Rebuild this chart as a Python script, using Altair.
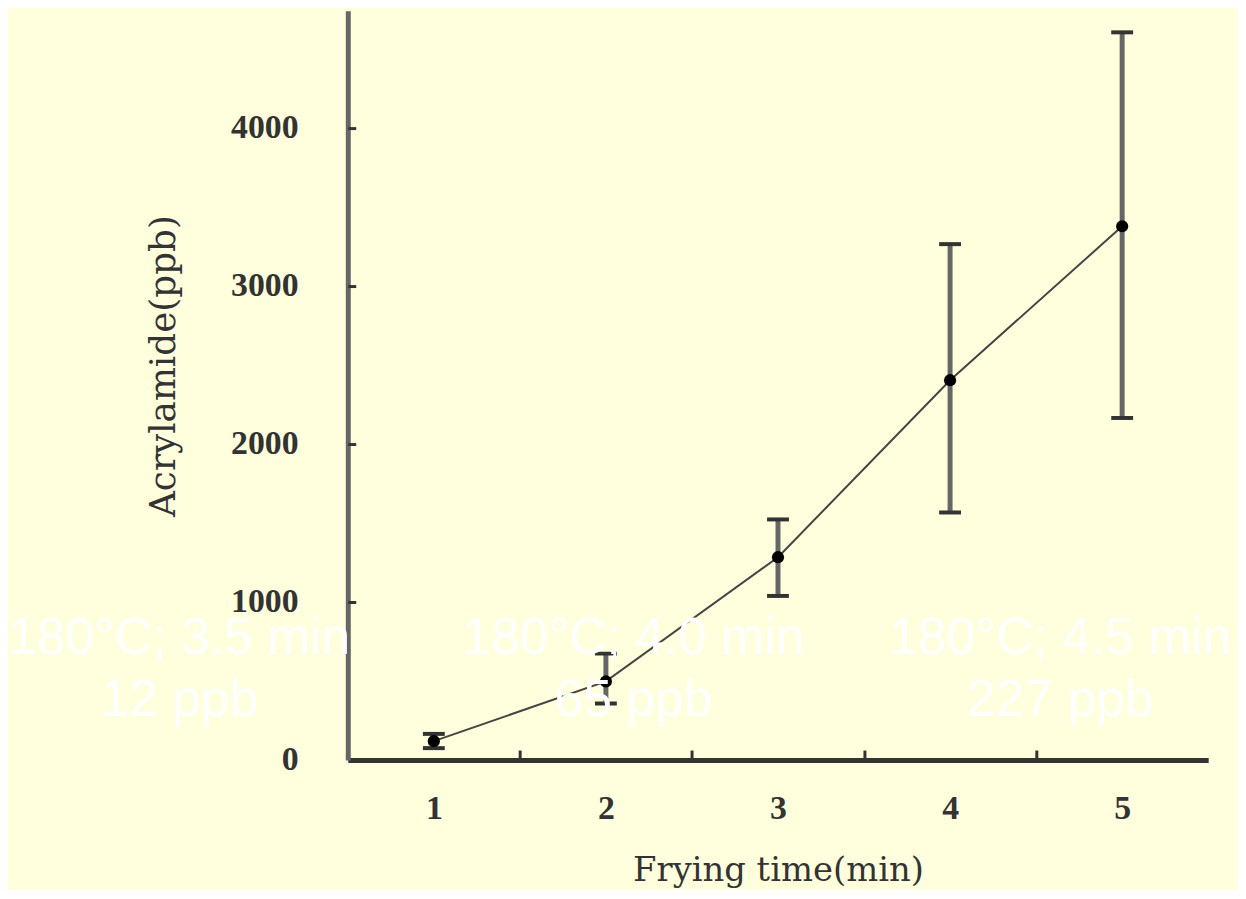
import altair as alt
import pandas as pd

# ---- data ----
times = [1, 2, 3, 4, 5]
acrylamide = [119, 497, 1283, 2403, 3377]
err_low = [75, 358, 1038, 1566, 2164]
err_high = [165, 673, 1522, 3264, 4604]

x_label_values = [1, 2, 3, 4, 5]
x_minor_ticks = [1.5, 2.5, 3.5, 4.5]
y_label_values = [0, 1000, 2000, 3000, 4000]
y_inner_ticks = [1000, 2000, 3000, 4000]

note_x = [-0.48, 2.16, 4.64]
note_y = [673, 673, 673]
note_text = ["180°C; 3.5 min\n12 ppb", "180°C; 4.0 min\n65 ppb", "180°C; 4.5 min\n227 ppb"]

df = pd.DataFrame({"time": times, "value": acrylamide, "low": err_low, "high": err_high})
notes = pd.DataFrame({"x": note_x, "y": note_y, "t": note_text})

BG = "#FFFFDD"
xs = alt.Scale(domain=[0.5, 5.5], nice=False, zero=False)
ys = alt.Scale(domain=[0, 4740], nice=False)

base = alt.Chart(df)

main_x_axis = alt.Axis(
    values=x_label_values, ticks=False, grid=False, format="d",
    domainColor="#333333", domainWidth=5,
    labelFont="Liberation Serif", labelFontSize=34, labelFontWeight="bold",
    labelColor="#333333", labelPadding=32,
    title="Frying time(min)", titleFont="DejaVu Serif", titleFontSize=34,
    titleFontWeight="normal", titleColor="#333333",
    titleY=111, titleBaseline="middle", titleAlign="center",
)
main_y_axis = alt.Axis(
    values=y_label_values, ticks=False, grid=False, format="d",
    domainColor="#666666", domainWidth=5,
    labelFont="Liberation Serif", labelFontSize=34, labelFontWeight="bold",
    labelColor="#333333", labelPadding=50,
    title="Acrylamide(ppb)", titleFont="DejaVu Serif", titleFontSize=36,
    titleFontWeight="normal", titleColor="#333333",
    titleAngle=270, titleX=-185, titleY=357,
    titleAlign="center", titleBaseline="middle",
)

line = base.mark_line(color="#444444", strokeWidth=2).encode(
    x=alt.X("time:Q", scale=xs, axis=main_x_axis),
    y=alt.Y("value:Q", scale=ys, axis=main_y_axis),
)

inner_ticks = base.mark_point(opacity=0).encode(
    x=alt.X("time:Q", scale=xs, axis=alt.Axis(
        orient="top", offset=-754, values=x_minor_ticks, labels=False,
        domain=False, grid=False, ticks=True, tickSize=10, tickWidth=3,
        tickColor="#333333", title=None)),
    y=alt.Y("value:Q", scale=ys, axis=alt.Axis(
        orient="right", offset=-866, values=y_inner_ticks, labels=False,
        domain=False, grid=False, ticks=True, tickSize=8, tickWidth=3,
        tickColor="#333333", title=None)),
)

bars = base.mark_rule(color="#666666", strokeWidth=5).encode(
    x=alt.X("time:Q", scale=xs, axis=None),
    y=alt.Y("low:Q", scale=ys, axis=None),
    y2="high:Q",
)
cap_low = base.mark_tick(orient="horizontal", size=22, thickness=4, color="#333333", opacity=1).encode(
    x=alt.X("time:Q", scale=xs, axis=None),
    y=alt.Y("low:Q", scale=ys, axis=None),
)
cap_high = base.mark_tick(orient="horizontal", size=22, thickness=4, color="#333333", opacity=1).encode(
    x=alt.X("time:Q", scale=xs, axis=None),
    y=alt.Y("high:Q", scale=ys, axis=None),
)
points = base.mark_circle(size=150, color="#000000", opacity=1).encode(
    x=alt.X("time:Q", scale=xs, axis=None),
    y=alt.Y("value:Q", scale=ys, axis=None),
)

texts = alt.Chart(notes).mark_text(
    font="Liberation Sans", fontSize=52, color="#FFFFFF", align="center",
    baseline="alphabetic", lineBreak="\n", lineHeight=63,
).encode(
    x=alt.X("x:Q", scale=xs, axis=None),
    y=alt.Y("y:Q", scale=ys, axis=None),
    text="t:N",
)

chart = alt.layer(line, inner_ticks, bars, cap_low, cap_high, points, texts).resolve_axis(
    x="independent", y="independent"
).properties(
    width=866, height=754,
    autosize=alt.AutoSizeParams(type="none"),
    padding={"left": 342, "top": 0, "right": 30, "bottom": 128},
    background=BG,
).configure_view(stroke=None, fill=BG)

chart.save("out.html", embed_options={"renderer": "svg", "actions": False})
